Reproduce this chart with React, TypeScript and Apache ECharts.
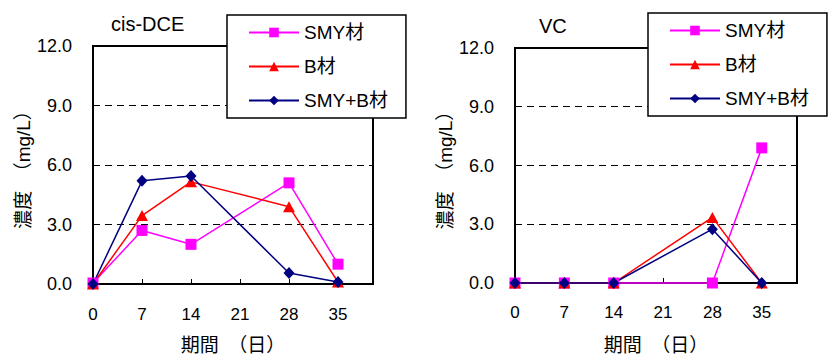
import React, { useEffect, useRef } from "react";
import * as echarts from "echarts";

const days = [0, 7, 14, 28, 35];
const seriesNames = ["SMY材", "B材", "SMY+B材"];
const dceSMY = [0.05, 2.7, 2.0, 5.1, 1.0];
const dceB = [0, 3.45, 5.15, 3.9, 0.1];
const dceSMYB = [0, 5.2, 5.45, 0.55, 0.1];
const vcSMY = [0, 0, 0, 0, 6.9];
const vcB = [0, 0, 0, 3.35, 0];
const vcSMYB = [0, 0, 0, 2.75, 0];
const titles = ["cis-DCE", "VC"];
const yAxisName = "濃度　（mg/L）";
const xAxisName = "期間　（日）";

const FONT = "'Liberation Sans', 'Noto Sans CJK JP', sans-serif";
const colors = ["#FF00FF", "#FF0000", "#000080"];
const symbols = ["rect", "triangle", "diamond"];
const symbolSizes: any[] = [11, [12, 11], [11, 12]];

function pairs(vals: number[]) {
  return days.map((d, i) => [d, vals[i]]);
}

export default function App() {
  const ref = useRef<HTMLDivElement>(null);
  useEffect(() => {
    const chart = echarts.init(ref.current!, null, { renderer: "svg" });
    const grids = [
      { left: 93, top: 46, width: 280, height: 243 },
      { left: 515, top: 48, width: 282, height: 244 },
    ];
    const mkX = (gi: number, margin: number, gap: number) => ({
      type: "value",
      gridIndex: gi,
      min: 0,
      max: 40,
      interval: 7,
      axisLine: { show: true, lineStyle: { color: "#000", width: 2 } },
      axisTick: { show: true, inside: true, length: 5, lineStyle: { color: "#000", width: 1 } },
      axisLabel: { showMaxLabel: false, margin, color: "#000", fontSize: 17, fontFamily: FONT },
      splitLine: { show: false },
      name: xAxisName,
      nameLocation: "middle",
      nameGap: gap,
      nameTextStyle: { color: "#000", fontSize: 19, fontFamily: FONT },
    });
    const mkY = (gi: number, gap: number) => ({
      type: "value",
      gridIndex: gi,
      min: 0,
      max: 12,
      interval: 3,
      axisLine: { show: true, lineStyle: { color: "#000", width: 2 } },
      axisTick: { show: false },
      axisLabel: {
        margin: 21,
        color: "#000",
        fontSize: 18,
        fontFamily: FONT,
        formatter: (v: number) => v.toFixed(1),
      },
      splitLine: { show: true, lineStyle: { color: "#000", width: 1, type: [7, 5] } },
      name: yAxisName,
      nameLocation: "middle",
      nameRotate: 90,
      nameGap: gap,
      nameTextStyle: { color: "#000", fontSize: 19, fontFamily: FONT },
    });
    const datasets = [
      [dceSMY, dceB, dceSMYB],
      [vcSMY, vcB, vcSMYB],
    ];
    const series: any[] = [];
    datasets.forEach((group, gi) => {
      group.forEach((vals, si) => {
        series.push({
          type: "line",
          name: seriesNames[si],
          xAxisIndex: gi,
          yAxisIndex: gi,
          data: pairs(vals),
          symbol: symbols[si],
          symbolSize: symbolSizes[si],
          showAllSymbol: true,
          clip: false,
          lineStyle: { color: colors[si], width: 1.5 },
          itemStyle: { color: colors[si] },
        });
      });
    });
    const mkLegend = (left: number, top: number) => ({
      left,
      top,
      orient: "vertical",
      data: seriesNames,
      itemWidth: 50,
      itemHeight: 12,
      itemGap: 15,
      padding: [8, 18, 8, 21],
      backgroundColor: "#fff",
      borderColor: "#000",
      borderWidth: 1.5,
      borderRadius: 0,
      selectedMode: false,
      textStyle: { color: "#000", fontSize: 19, fontFamily: FONT },
      z: 10,
    });
    chart.setOption({
      animation: false,
      backgroundColor: "#fff",
      title: [
        { text: titles[0], left: 111, top: 14, padding: 0, textStyle: { color: "#000", fontSize: 20, fontWeight: "normal", fontFamily: FONT } },
        { text: titles[1], left: 539, top: 16, padding: 0, textStyle: { color: "#000", fontSize: 20, fontWeight: "normal", fontFamily: FONT } },
      ],
      grid: grids.map((g) => ({ ...g, show: true, borderColor: "#000", borderWidth: 2, backgroundColor: "transparent" })),
      xAxis: [mkX(0, 22, 52), mkX(1, 21, 53)],
      yAxis: [mkY(0, 58), mkY(1, 60)],
      legend: [mkLegend(227, 15), mkLegend(648, 13)],
      series,
    });
    return () => chart.dispose();
  }, []);
  return (
    <div
      ref={ref}
      style={{ position: "fixed", left: 0, top: 0, width: 832, height: 360 }}
    />
  );
}
